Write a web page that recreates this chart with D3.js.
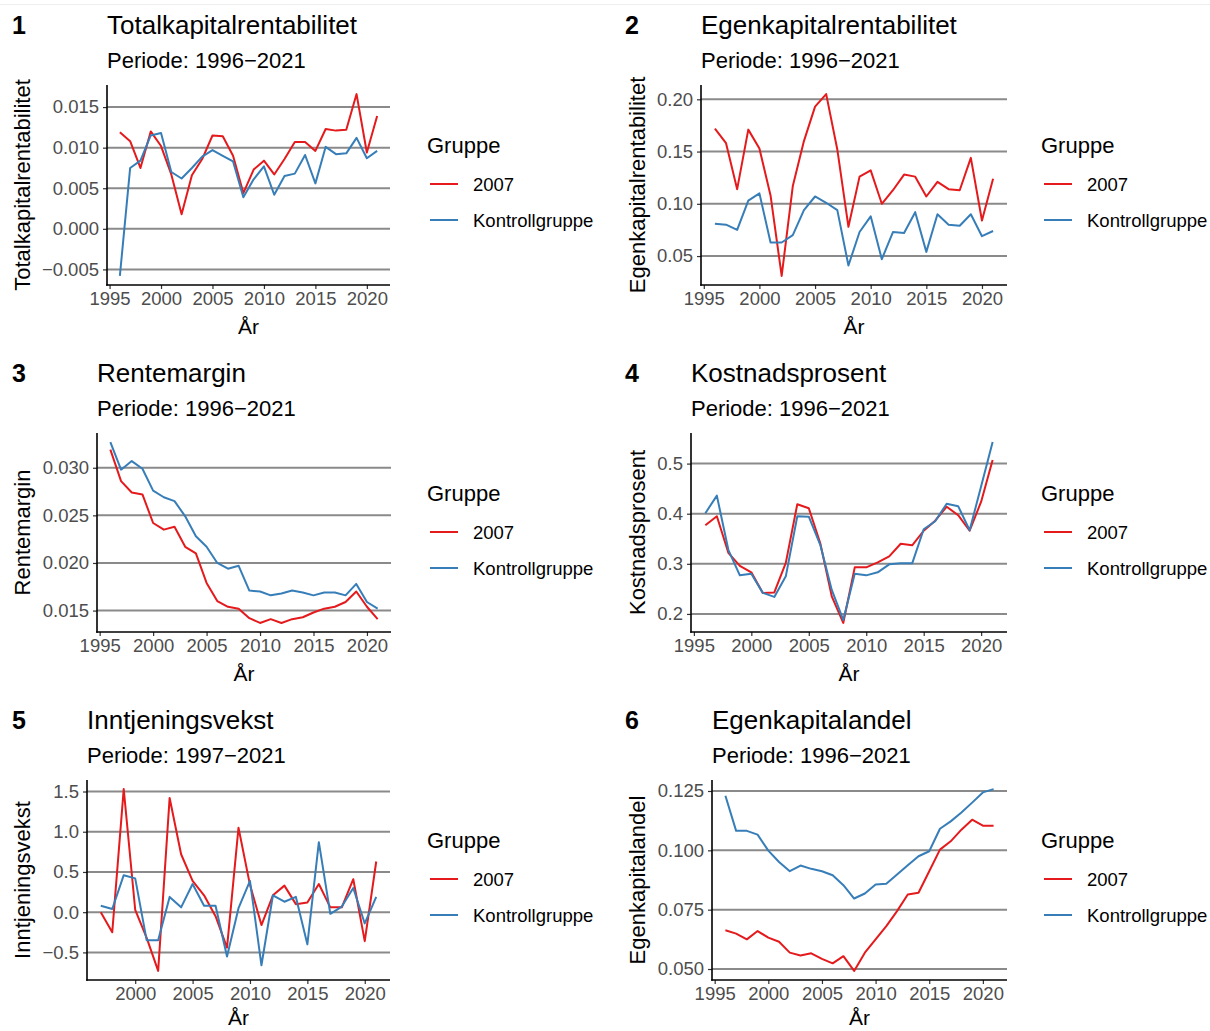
<!DOCTYPE html>
<html>
<head>
<meta charset="utf-8">
<script src="https://cdn.jsdelivr.net/npm/d3@7"></script>
<style>
  html, body { margin: 0; padding: 0; background: #fff; }
  svg { display: block; font-family: "Liberation Sans", Arial, sans-serif; }
</style>
</head>
<body>
<svg id="chart" width="1210" height="1031"></svg>
<script>
// ---- data -------------------------------------------------------------
const years = [1996, 1997, 1998, 1999, 2000, 2001, 2002, 2003, 2004, 2005, 2006, 2007, 2008,
               2009, 2010, 2011, 2012, 2013, 2014, 2015, 2016, 2017, 2018, 2019, 2020, 2021];
const yearsGrowth = [1997, 1998, 1999, 2000, 2001, 2002, 2003, 2004, 2005, 2006, 2007, 2008,
                     2009, 2010, 2011, 2012, 2013, 2014, 2015, 2016, 2017, 2018, 2019, 2020, 2021];
const groups = ["2007", "Kontrollgruppe"];
const groupColors = ["#E41A1C", "#377EB8"];

const totalkap2007 = [0.0119, 0.0108, 0.0075, 0.0120, 0.0102, 0.0067, 0.0018, 0.0066, 0.0086, 0.0115, 0.0114, 0.0090, 0.0044,
                      0.0073, 0.0084, 0.0067, 0.0086, 0.0107, 0.0107, 0.0096, 0.0123, 0.0121, 0.0122, 0.0166, 0.0094, 0.0139];
const totalkapKontroll = [-0.0058, 0.0075, 0.0084, 0.0115, 0.0118, 0.0070, 0.0062, 0.0075, 0.0089, 0.0097, 0.0090, 0.0083, 0.0039,
                          0.0061, 0.0077, 0.0042, 0.0065, 0.0068, 0.0091, 0.0056, 0.0101, 0.0092, 0.0093, 0.0112, 0.0087, 0.0096];

const egenkap2007 = [0.172, 0.158, 0.114, 0.171, 0.153, 0.108, 0.031, 0.117, 0.160, 0.193, 0.205, 0.152, 0.078,
                     0.126, 0.132, 0.100, 0.113, 0.128, 0.126, 0.107, 0.121, 0.114, 0.113, 0.144, 0.084, 0.124];
const egenkapKontroll = [0.081, 0.080, 0.075, 0.103, 0.110, 0.063, 0.063, 0.070, 0.094, 0.107, 0.101, 0.094, 0.041,
                         0.073, 0.088, 0.047, 0.073, 0.072, 0.092, 0.054, 0.090, 0.080, 0.079, 0.090, 0.069, 0.074];

const rente2007 = [0.0319, 0.0286, 0.0274, 0.0272, 0.0242, 0.0235, 0.0238, 0.0217, 0.0210, 0.0179, 0.0160, 0.0154, 0.0152,
                   0.0142, 0.0137, 0.0141, 0.0137, 0.0141, 0.0143, 0.0148, 0.0152, 0.0154, 0.0159, 0.0170, 0.0154, 0.0141];
const renteKontroll = [0.0327, 0.0298, 0.0307, 0.0299, 0.0276, 0.0269, 0.0265, 0.0249, 0.0228, 0.0217, 0.0200, 0.0194, 0.0197,
                       0.0171, 0.0170, 0.0166, 0.0168, 0.0171, 0.0169, 0.0166, 0.0169, 0.0169, 0.0166, 0.0178, 0.0159, 0.0152];

const kostnad2007 = [0.377, 0.395, 0.322, 0.296, 0.283, 0.242, 0.243, 0.302, 0.419, 0.411, 0.341, 0.235, 0.182,
                     0.293, 0.293, 0.303, 0.315, 0.340, 0.337, 0.366, 0.386, 0.414, 0.397, 0.366, 0.424, 0.507];
const kostnadKontroll = [0.401, 0.436, 0.328, 0.277, 0.280, 0.242, 0.234, 0.275, 0.395, 0.394, 0.338, 0.248, 0.188,
                         0.280, 0.277, 0.283, 0.299, 0.301, 0.301, 0.369, 0.385, 0.420, 0.415, 0.367, 0.455, 0.543];

const vekst2007 = [0.00, -0.25, 1.53, 0.03, -0.32, -0.73, 1.42, 0.72, 0.39, 0.21, -0.05, -0.44,
                   1.05, 0.34, -0.16, 0.21, 0.33, 0.10, 0.12, 0.35, 0.06, 0.06, 0.41, -0.36, 0.63];
const vekstKontroll = [0.08, 0.04, 0.46, 0.42, -0.35, -0.35, 0.19, 0.06, 0.35, 0.08, 0.08, -0.55,
                       0.05, 0.39, -0.66, 0.21, 0.13, 0.19, -0.40, 0.87, -0.02, 0.07, 0.30, -0.14, 0.19];

const andel2007 = [0.0663, 0.0649, 0.0625, 0.0660, 0.0632, 0.0615, 0.0569, 0.0557, 0.0566, 0.0543, 0.0524, 0.0554, 0.0492,
                   0.0569, 0.0625, 0.0681, 0.0744, 0.0814, 0.0821, 0.0912, 0.1003, 0.1038, 0.1087, 0.1129, 0.1104, 0.1104];
const andelKontroll = [0.1230, 0.1082, 0.1082, 0.1066, 0.0999, 0.0951, 0.0912, 0.0936, 0.0922, 0.0912, 0.0895, 0.0853, 0.0797,
                       0.0818, 0.0856, 0.0859, 0.0898, 0.0937, 0.0975, 0.0996, 0.1091, 0.1122, 0.1159, 0.1201, 0.1244, 0.1258];

// tick values / labels
const xTicks = [1995, 2000, 2005, 2010, 2015, 2020];
const xTicksGrowth = [2000, 2005, 2010, 2015, 2020];
const yTicks1 = [-0.005, 0.000, 0.005, 0.010, 0.015];
const yTicks2 = [0.05, 0.10, 0.15, 0.20];
const yTicks3 = [0.015, 0.020, 0.025, 0.030];
const yTicks4 = [0.2, 0.3, 0.4, 0.5];
const yTicks5 = [-0.5, 0.0, 0.5, 1.0, 1.5];
const yTicks6 = [0.050, 0.075, 0.100, 0.125];

// ---- panel definitions ---------------------------------------------
const panels = [
  { num: "1", title: "Totalkapitalrentabilitet", sub: "Periode: 1996\u22122021", ylab: "Totalkapitalrentabilitet",
    x: years, s: [totalkap2007, totalkapKontroll], xt: xTicks, yt: yTicks1, fmt: ".3f",
    box: { l: 107, t: 85, r: 390, b: 285 }, top: 0, col: 0 },
  { num: "2", title: "Egenkapitalrentabilitet", sub: "Periode: 1996\u22122021", ylab: "Egenkapitalrentabilitet",
    x: years, s: [egenkap2007, egenkapKontroll], xt: xTicks, yt: yTicks2, fmt: ".2f",
    box: { l: 701, t: 85, r: 1007, b: 285 }, top: 0, col: 1 },
  { num: "3", title: "Rentemargin", sub: "Periode: 1996\u22122021", ylab: "Rentemargin",
    x: years, s: [rente2007, renteKontroll], xt: xTicks, yt: yTicks3, fmt: ".3f",
    box: { l: 97, t: 433, r: 391, b: 632 }, top: 348, col: 0 },
  { num: "4", title: "Kostnadsprosent", sub: "Periode: 1996\u22122021", ylab: "Kostnadsprosent",
    x: years, s: [kostnad2007, kostnadKontroll], xt: xTicks, yt: yTicks4, fmt: ".1f",
    box: { l: 691, t: 433, r: 1007, b: 632 }, top: 348, col: 1 },
  { num: "5", title: "Inntjeningsvekst", sub: "Periode: 1997\u22122021", ylab: "Inntjeningsvekst",
    x: yearsGrowth, s: [vekst2007, vekstKontroll], xt: xTicksGrowth, yt: yTicks5, fmt: ".1f",
    box: { l: 87, t: 780, r: 390, b: 980 }, top: 695, col: 0 },
  { num: "6", title: "Egenkapitalandel", sub: "Periode: 1996\u22122021", ylab: "Egenkapitalandel",
    x: years, s: [andel2007, andelKontroll], xt: xTicks, yt: yTicks6, fmt: ".3f",
    box: { l: 712, t: 780, r: 1007, b: 980 }, top: 695, col: 1 }
];

const svg = d3.select("#chart");
const minus = s => s.replace("-", "\u2212");

// faint frame line along the top edge
svg.append("line").attr("x1", 0).attr("x2", 1210).attr("y1", 4.5).attr("y2", 4.5)
  .attr("stroke", "#eeeeee").attr("stroke-width", 1);

function expand(ext) {
  const pad = (ext[1] - ext[0]) * 0.05;
  return [ext[0] - pad, ext[1] + pad];
}

panels.forEach(p => {
  const g = svg.append("g");
  const { l, t, r, b } = p.box;
  const colX = p.col === 0 ? 12 : 625;
  const ylabX = p.col === 0 ? 22 : 637;

  // header
  g.append("text").attr("x", colX).attr("y", p.top + 25).attr("dy", "0.36em")
    .attr("font-size", 25).attr("font-weight", "bold").attr("fill", "#000").text(p.num);
  g.append("text").attr("x", l).attr("y", p.top + 25).attr("dy", "0.36em")
    .attr("font-size", 26).attr("fill", "#000").text(p.title);
  g.append("text").attr("x", l).attr("y", p.top + 60).attr("dy", "0.36em")
    .attr("font-size", 22).attr("fill", "#000").text(p.sub);

  // scales
  const xs = d3.scaleLinear().domain(expand(d3.extent(p.x))).range([l, r]);
  const all = p.s[0].concat(p.s[1]);
  const ys = d3.scaleLinear().domain(expand(d3.extent(all))).range([b, t]);

  // horizontal grid
  g.append("g").selectAll("line").data(p.yt).join("line")
    .attr("x1", l).attr("x2", r)
    .attr("y1", d => ys(d)).attr("y2", d => ys(d))
    .attr("stroke", "#8a8a8a").attr("stroke-width", 2);

  // series
  const line = d3.line().x((d, i) => xs(p.x[i])).y(d => ys(d));
  p.s.forEach((vals, k) => {
    g.append("path").datum(vals).attr("d", line)
      .attr("fill", "none").attr("stroke", groupColors[k])
      .attr("stroke-width", 2).attr("stroke-linejoin", "round");
  });

  // axes
  const yAxis = d3.axisLeft(ys).tickValues(p.yt).tickSize(4).tickPadding(4)
    .tickFormat(d => minus(d3.format(p.fmt)(d)));
  const ya = g.append("g").attr("transform", `translate(${l},0)`).call(yAxis);
  const xAxis = d3.axisBottom(xs).tickValues(p.xt).tickSize(4).tickPadding(3)
    .tickFormat(d3.format("d"));
  const xa = g.append("g").attr("transform", `translate(0,${b})`).call(xAxis);
  [ya, xa].forEach(a => {
    a.select(".domain").remove();
    a.selectAll(".tick line").attr("stroke", "#333").attr("stroke-width", 1.2);
    a.selectAll(".tick text").attr("font-size", 18.5).attr("fill", "#4d4d4d")
      .attr("font-family", "Liberation Sans, Arial, sans-serif");
  });
  g.append("line").attr("x1", l).attr("x2", l).attr("y1", t).attr("y2", b + 0.8)
    .attr("stroke", "#000").attr("stroke-width", 1.6);
  g.append("line").attr("x1", l - 0.8).attr("x2", r).attr("y1", b).attr("y2", b)
    .attr("stroke", "#000").attr("stroke-width", 1.6);

  // axis titles (bottom row kept clear of the page edge)
  g.append("text").attr("x", (l + r) / 2).attr("y", Math.min(b + 41, 1017)).attr("dy", "0.36em")
    .attr("text-anchor", "middle").attr("font-size", 21).attr("fill", "#000").text("\u00c5r");
  g.append("text").attr("transform", `translate(${ylabX},${(t + b) / 2}) rotate(-90)`)
    .attr("dy", "0.36em").attr("text-anchor", "middle")
    .attr("font-size", 22).attr("fill", "#000").text(p.ylab);

  // legend
  const lx = p.col === 0 ? 427 : 1041;
  const ly = p.top + 145;
  g.append("text").attr("x", lx).attr("y", ly).attr("dy", "0.36em")
    .attr("font-size", 22).attr("fill", "#000").text("Gruppe");
  groups.forEach((name, k) => {
    const yy = ly + 39 + k * 36;
    g.append("line").attr("x1", lx + 3).attr("x2", lx + 31).attr("y1", yy).attr("y2", yy)
      .attr("stroke", groupColors[k]).attr("stroke-width", 2);
    g.append("text").attr("x", lx + 46).attr("y", yy).attr("dy", "0.36em")
      .attr("font-size", 18.5).attr("fill", "#000").text(name);
  });
});
</script>
</body>
</html>
